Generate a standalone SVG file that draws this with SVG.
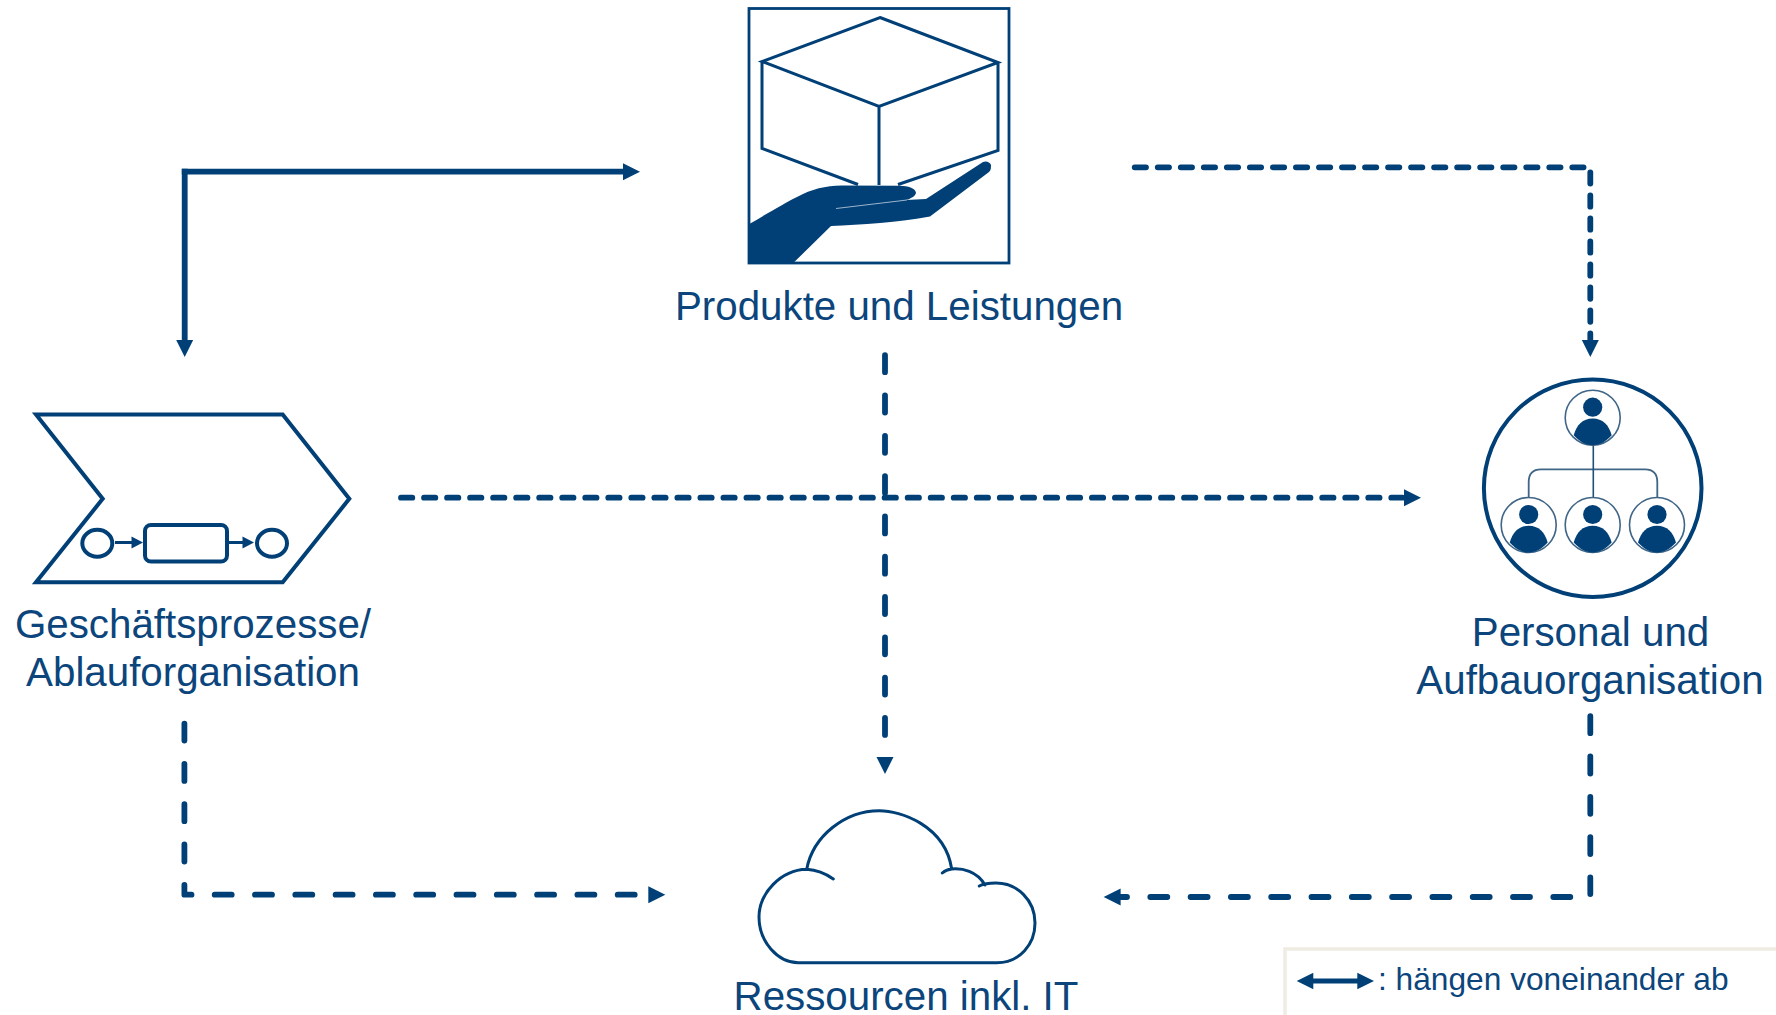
<svg xmlns="http://www.w3.org/2000/svg" xmlns:xlink="http://www.w3.org/1999/xlink" width="1776" height="1015" viewBox="0 0 1776 1015">
<style>
text{font-family:"Liberation Sans",Arial,sans-serif;font-size:40.3px;fill:#0b457c}
.m{text-anchor:middle}
.o{fill:none;stroke:#004077;stroke-linejoin:miter}
.f{fill:#004077}
.c{fill:none;stroke:#004077;stroke-width:5.8;stroke-linecap:round;stroke-linejoin:round}
.s{stroke-linecap:butt}
.h{stroke-dasharray:11.3 11.73}
.v{stroke-dasharray:17 23.3}
</style>
<defs>
<marker id="a" markerUnits="userSpaceOnUse" markerWidth="18" markerHeight="18" refX="0" refY="9" orient="auto" viewBox="0 0 18 18"><path class="f" d="M0,.5L17,9L0,17.5Z"/></marker>
<g id="person">
<circle r="27.5" fill="#fff" stroke="#3f6587" stroke-width="1.6"/>
<circle cy="-10.5" r="9.6" class="f"/>
<path class="f" d="M-19,17.5C-16,7 -10,.8 0,.8C10,.8 16,7 19,17.5C13,24 7,27.5 0,27.5C-7,27.5 -13,24 -19,17.5Z"/>
</g>
</defs>
<rect width="1776" height="1015" fill="#fff"/>

<g id="connectors">
<path class="c s" d="M184.7,168.8V340" marker-end="url(#a)"/>
<path class="c s" d="M181.8,171.7H623" marker-end="url(#a)"/>
<path class="c h" d="M1134.7,167.3H1590.3V340" marker-end="url(#a)"/>
<path class="c h" d="M401,497.7H1404" marker-end="url(#a)"/>
<path class="c v" d="M885,355.2V757" marker-end="url(#a)"/>
<path class="c v" d="M184.4,723.6V894.7H192"/>
<path class="c v" d="M214.7,894.7H648.3" marker-end="url(#a)"/>
<path class="c v" d="M1590.3,716.2V894"/>
<path class="c v" d="M1570.3,897H1120.6" marker-end="url(#a)"/>
</g>

<g id="produkte">
<rect x="749" y="8.5" width="260" height="254.5" fill="none" class="o" stroke-width="2.8"/>
<path class="o" stroke-width="3" d="M880,17.5L998,62.5L879,106.5L762,61.5ZM762,61.5V148.5L858,184.5M998,62.5V150.5L898,184.5M879,106.5V185"/>
<path class="f" d="M749.3,224C770,212 785,203 797,197C812,189 825,186 842,185.6L900,185.8C908,186 915,188 916,192.5C916,196 910,199 906,200L926,199L983,162C986,160.5 990,162 991,165C991,168 991,170 989,172L930,216.5C900,222 860,225 831,226L793,263.3H749Z"/>
<path d="M836,208.5L907,200" stroke="#9db4cc" stroke-width="1" fill="none"/>
<text class="m" x="899" y="319.5">Produkte und Leistungen</text>
</g>

<g id="geschaeftsprozesse">
<path class="o" stroke-width="4" d="M36,414.5H282.7L349.3,498.8L282.7,582.2H36L102.7,498.8Z"/>
<ellipse cx="97.3" cy="543.3" rx="15" ry="13.5" class="o" stroke-width="4"/>
<rect x="145" y="525" width="82" height="36.5" rx="6" class="o" stroke-width="4"/>
<ellipse cx="272" cy="543.3" rx="15" ry="13.5" class="o" stroke-width="4"/>
<path class="o" stroke-width="3" d="M115,542.5H132M229,542.5H243"/>
<path class="f" d="M131.5,536.5L143,542.5L131.5,548.5ZM242.5,536.5L254,542.5L242.5,548.5Z"/>
<text class="m" x="193" y="638">Geschäftsprozesse/</text>
<text class="m" x="193" y="686">Ablauforganisation</text>
</g>

<g id="personal">
<circle cx="1592.7" cy="488.3" r="108.8" fill="none" class="o" stroke-width="4"/>
<path fill="none" stroke="#3f6587" stroke-width="1.8" d="M1528.7,497.7V482Q1528.7,469.3 1541,469.3H1645Q1657.3,469.3 1657.3,482V497.7"/>
<path fill="none" stroke="#1f4f7c" stroke-width="1.6" d="M1593.3,445V497.7"/>
<use xlink:href="#person" href="#person" x="1592.7" y="417.7"/>
<use xlink:href="#person" href="#person" x="1528.7" y="525"/>
<use xlink:href="#person" href="#person" x="1592.7" y="525"/>
<use xlink:href="#person" href="#person" x="1657" y="525"/>
<text class="m" x="1590.5" y="646">Personal und</text>
<text class="m" x="1590" y="694">Aufbauorganisation</text>
</g>

<g id="ressourcen">
<path class="o" fill="none" stroke-width="3" stroke-linecap="round" d="M833.3,879C822,871 810,869.5 806.7,869.3C781,870 759,893 759,917C759,942 778,962.7 798.3,962.7H996.7C1020,962.7 1035,944 1035,923C1035,900 1017,883 996,883C988,883 983,884 979.3,886M985,885C977,871 962,868 951.7,869C948,869.5 945,870.5 942.3,873M951.7,869C945,825 900,810.7 879.3,810.7C845,810.7 813,836 806.7,869.3"/>
<text class="m" x="906" y="1010">Ressourcen inkl. IT</text>
</g>

<g id="legende">
<rect x="1285" y="949" width="600" height="200" fill="#fff" stroke="#efece3" stroke-width="3.5"/>
<path d="M1313,981H1358" stroke="#004077" stroke-width="5" fill="none"/>
<path class="f" d="M1296.7,981L1313.3,972.7V989.3ZM1374,981L1357.3,972.7V989.3Z"/>
<text x="1378" y="990" style="font-size:31.7px">: hängen voneinander ab</text>
</g>
</svg>
